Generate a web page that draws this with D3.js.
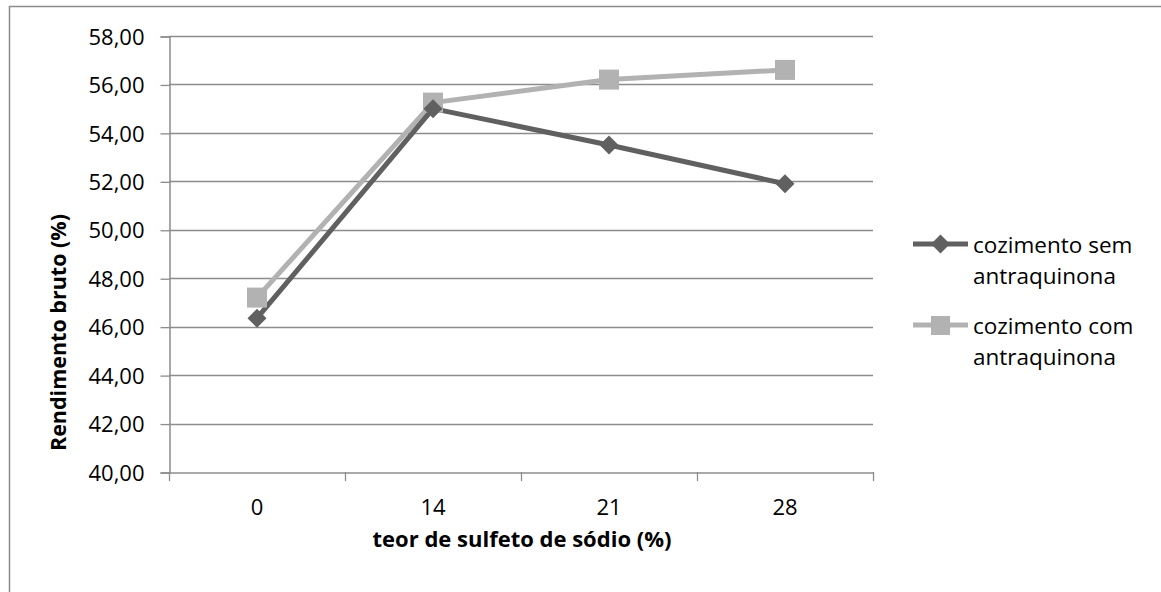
<!DOCTYPE html>
<html>
<head>
<meta charset="utf-8">
<script src="https://cdn.jsdelivr.net/npm/d3@7"></script>
<style>
  html, body { margin: 0; padding: 0; background: #fff; }
  svg { display: block; }
  text { font-family: "Open Sans", sans-serif; fill: #000; }
</style>
</head>
<body>
<div id="chart"></div>
<script>
// Rendimento bruto vs teor de sulfeto de sodio
const categories = ["0", "14", "21", "28"];
const semAQ = [46.35, 55.0, 53.5, 51.9];
const comAQ = [47.2, 55.25, 56.2, 56.6];
const yTicks = [40, 42, 44, 46, 48, 50, 52, 54, 56, 58];
const seriesNames = [["cozimento sem", "antraquinona"], ["cozimento com", "antraquinona"]];

const W = 1161, H = 592;
const gridColor = "#8c8c8c";
const darkColor = "#606060";
const lightColor = "#b2b2b2";

const svg = d3.select("#chart").append("svg")
  .attr("width", W)
  .attr("height", H);

svg.append("rect").attr("width", W).attr("height", H).attr("fill", "#fff");

// outer chart border (runs off right and bottom)
svg.append("rect")
  .attr("x", 9.5)
  .attr("y", 6.5)
  .attr("width", W + 20)
  .attr("height", H + 20)
  .attr("fill", "none")
  .attr("stroke", gridColor)
  .attr("stroke-width", 1.5);

const x = d3.scaleBand().domain(categories).range([169, 873]);
const y = d3.scaleLinear().domain([40, 58]).range([472, 36]);

const ptBR = d3.formatLocale({ decimal: ",", thousands: ".", grouping: [3], currency: ["R$", ""] });
const fmt = ptBR.format(".2f");

// gridlines
svg.append("g")
  .selectAll("line")
  .data(yTicks.filter(d => d > 40))
  .enter()
  .append("line")
  .attr("x1", 169)
  .attr("x2", 873)
  .attr("y1", d => Math.round(y(d)) + 0.5)
  .attr("y2", d => Math.round(y(d)) + 0.5)
  .attr("stroke", gridColor)
  .attr("stroke-width", 1.3);

// y axis
const yAxis = svg.append("g")
  .attr("transform", "translate(169.5,0.5)")
  .call(d3.axisLeft(y).tickValues(yTicks).tickFormat(fmt).tickSize(9).tickPadding(16));
yAxis.select(".domain").attr("stroke", gridColor).attr("stroke-width", 1.5);
yAxis.selectAll(".tick line").attr("stroke", gridColor).attr("stroke-width", 1.3);
yAxis.selectAll(".tick text")
  .attr("font-family", "Open Sans, sans-serif")
  .attr("font-size", "22px")
  .attr("fill", "#000")
  .attr("dy", "0.35em");

// x axis
const xAxis = svg.append("g")
  .attr("transform", "translate(0,472.5)")
  .call(d3.axisBottom(x).tickSize(0).tickPadding(27));
xAxis.select(".domain").attr("stroke", gridColor).attr("stroke-width", 1.5);
xAxis.selectAll(".tick text")
  .attr("font-family", "Open Sans, sans-serif")
  .attr("font-size", "22px")
  .attr("fill", "#000");

// x axis tick marks sit between categories
const bounds = categories.map(c => x(c)).concat([x.range()[1]]);
svg.append("g")
  .selectAll("line")
  .data(bounds)
  .enter()
  .append("line")
  .attr("x1", d => Math.round(d) + 0.5)
  .attr("x2", d => Math.round(d) + 0.5)
  .attr("y1", 472)
  .attr("y2", 481)
  .attr("stroke", gridColor)
  .attr("stroke-width", 1.3);

// axis titles (y title sits low, its end beside the 50,00 label)
svg.append("text")
  .attr("transform", "translate(67,214) rotate(-90)")
  .attr("text-anchor", "end")
  .attr("dy", "-0.05em")
  .attr("font-size", "21.5px")
  .attr("font-weight", "bold")
  .text("Rendimento bruto (%)");

svg.append("text")
  .attr("x", 522)
  .attr("y", 547)
  .attr("text-anchor", "middle")
  .attr("font-size", "22px")
  .attr("font-weight", "bold")
  .text("teor de sulfeto de sódio (%)");

const cx = c => x(c) + x.bandwidth() / 2;
const line = d3.line().x((d, i) => cx(categories[i])).y(d => y(d));

// light series (com antraquinona)
svg.append("path")
  .datum(comAQ)
  .attr("d", line)
  .attr("fill", "none")
  .attr("stroke", lightColor)
  .attr("stroke-width", 5)
  .attr("stroke-linejoin", "round");

// dark series (sem antraquinona)
svg.append("path")
  .datum(semAQ)
  .attr("d", line)
  .attr("fill", "none")
  .attr("stroke", darkColor)
  .attr("stroke-width", 5)
  .attr("stroke-linejoin", "round");

svg.append("g")
  .selectAll("rect")
  .data(comAQ)
  .enter()
  .append("rect")
  .attr("x", (d, i) => cx(categories[i]) - 10)
  .attr("y", d => y(d) - 10)
  .attr("width", 20)
  .attr("height", 20)
  .attr("fill", lightColor);

const diamond = d3.symbol().type(d3.symbolDiamond2).size(230);
svg.append("g")
  .selectAll("path")
  .data(semAQ)
  .enter()
  .append("path")
  .attr("d", diamond)
  .attr("transform", (d, i) => `translate(${cx(categories[i])},${y(d)})`)
  .attr("fill", darkColor);

// legend
const legend = svg.append("g");
const legendRows = [
  { y: 244, color: darkColor, marker: "diamond", names: seriesNames[0] },
  { y: 325, color: lightColor, marker: "square", names: seriesNames[1] }
];
legendRows.forEach(r => {
  legend.append("line")
    .attr("x1", 913).attr("x2", 968)
    .attr("y1", r.y).attr("y2", r.y)
    .attr("stroke", r.color)
    .attr("stroke-width", 5);
  if (r.marker === "diamond") {
    legend.append("path")
      .attr("d", diamond)
      .attr("transform", `translate(940.5,${r.y})`)
      .attr("fill", r.color);
  } else {
    legend.append("rect")
      .attr("x", 931).attr("y", r.y - 9)
      .attr("width", 19).attr("height", 19)
      .attr("fill", r.color);
  }
  const t = legend.append("text")
    .attr("x", 973)
    .attr("y", r.y + 9)
    .attr("font-size", "22.5px");
  t.append("tspan").attr("x", 973).text(r.names[0]);
  t.append("tspan").attr("x", 973).attr("dy", 31).text(r.names[1]);
});
</script>
</body>
</html>
